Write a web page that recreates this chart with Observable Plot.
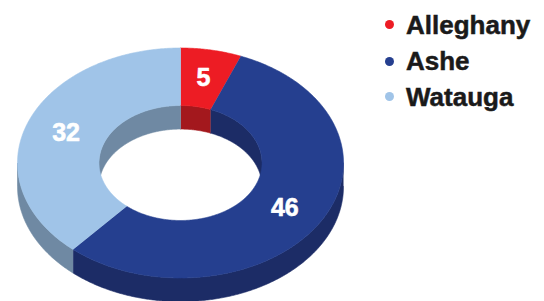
<!DOCTYPE html>
<html><head><meta charset="utf-8">
<script src="https://cdn.jsdelivr.net/npm/d3@7"></script>
<script src="https://cdn.jsdelivr.net/npm/@observablehq/plot@0.6"></script>
<style>
html,body{margin:0;padding:0;background:#fff;}
#wrap{position:relative;width:544px;height:301px;overflow:hidden;font-family:"Liberation Sans",Arial,Helvetica,sans-serif;}
#chart{position:absolute;left:0;top:0;}
#legend{position:absolute;left:385px;top:0;}
.item{position:absolute;left:0;display:flex;align-items:center;white-space:nowrap;font-weight:bold;font-size:26px;line-height:30px;color:#1a1a1a;-webkit-text-stroke:0.5px #1a1a1a;}
.dot{width:9px;height:9px;border-radius:50%;margin-right:12px;flex:none;}
</style>
</head><body>
<div id="wrap"><div id="chart"></div><div id="legend"></div></div>
<script>
// ---- data ----
const names = ["Alleghany", "Ashe", "Watauga"];
const values = [5, 46, 32];
const topColors = ["#ED1C24", "#253F8F", "#A0C4E8"];
const sideColors = ["#A3181D", "#1C2C66", "#6F89A3"];

// ---- geometry (in unit-ellipse data space) ----
const INNER = 0.5, OUTER = 1, DEPTH = 0.205;
const total = d3.sum(values);
const cum = d3.cumsum(values);
const slices = names.map((n, i) => ({
  name: n, value: values[i], i,
  a0: (i ? cum[i - 1] : 0) / total * 360,
  a1: cum[i] / total * 360
}));

function arc(r, a0, a1, dy) {
  const n = Math.max(2, Math.ceil(Math.abs(a1 - a0) / 0.5));
  const pts = [];
  for (let k = 0; k <= n; k++) {
    const a = (a0 + (a1 - a0) * k / n) * Math.PI / 180;
    pts.push([r * Math.sin(a), r * Math.cos(a) - dy]);
  }
  return pts;
}
function clipRange(a0, a1, lo, hi) {
  const s = Math.max(a0, lo), e = Math.min(a1, hi);
  return s < e ? [s, e] : null;
}
function pushPoly(rows, key, pts, fill) {
  pts.forEach(([x, y]) => rows.push({key, x, y, fill}));
}

const innerRows = [], sideRows = [], topRows = [];
slices.forEach(s => {
  // inner wall: far (back) half of inner cylinder
  [[-90, 90], [270, 450]].forEach(([lo, hi], j) => {
    const r = clipRange(s.a0, s.a1, lo, hi);
    if (r) {
      const pts = arc(INNER, r[0], r[1], 0).concat(arc(INNER, r[1], r[0], DEPTH));
      pushPoly(innerRows, "in-" + s.name + j, pts, sideColors[s.i]);
    }
  });
  // outer side: near (front) half
  const f = clipRange(s.a0, s.a1, 90, 270);
  if (f) {
    const pts = arc(OUTER, f[0], f[1], 0).concat(arc(OUTER, f[1], f[0], DEPTH));
    pushPoly(sideRows, "side-" + s.name, pts, sideColors[s.i]);
  }
  // top face ring sector
  const pts = arc(OUTER, s.a0, s.a1, 0).concat(arc(INNER, s.a1, s.a0, 0));
  pushPoly(topRows, "top-" + s.name, pts, topColors[s.i]);
});

const labelRows = slices.map(s => {
  const a = (s.a0 + s.a1) / 2 * Math.PI / 180, r = (INNER + OUTER) / 2;
  return {x: r * Math.sin(a), y: r * Math.cos(a), text: String(s.value)};
});

const polyOpts = {x: "x", y: "y", z: "key", fill: "fill", stroke: "fill", strokeWidth: 0.6, curve: "linear"};

const chart = Plot.plot({
  width: 544,
  height: 301,
  margin: 0,
  x: {domain: [-1, 1], range: [17, 343], axis: null},
  y: {domain: [-1, 1], range: [277.5, 47.5], axis: null},
  color: {type: "identity"},
  style: {background: "transparent", fontFamily: "'Liberation Sans', Arial, sans-serif"},
  marks: [
    Plot.line(innerRows, polyOpts),
    Plot.line(sideRows, polyOpts),
    Plot.line(topRows, polyOpts),
    Plot.text(labelRows, {x: "x", y: "y", text: "text", fill: "white", stroke: "white", strokeWidth: 0.6, fontSize: 25, fontWeight: "bold"})
  ]
});
document.getElementById("chart").appendChild(chart);

// ---- legend ----
const legend = document.getElementById("legend");
const tops = [9.5, 46, 81.5];
names.forEach((n, i) => {
  const it = document.createElement("div");
  it.className = "item";
  it.style.top = tops[i] + "px";
  const dot = document.createElement("span");
  dot.className = "dot";
  dot.style.background = topColors[i];
  const t = document.createElement("span");
  t.textContent = n;
  it.appendChild(dot); it.appendChild(t);
  legend.appendChild(it);
});
</script>
</body></html>
